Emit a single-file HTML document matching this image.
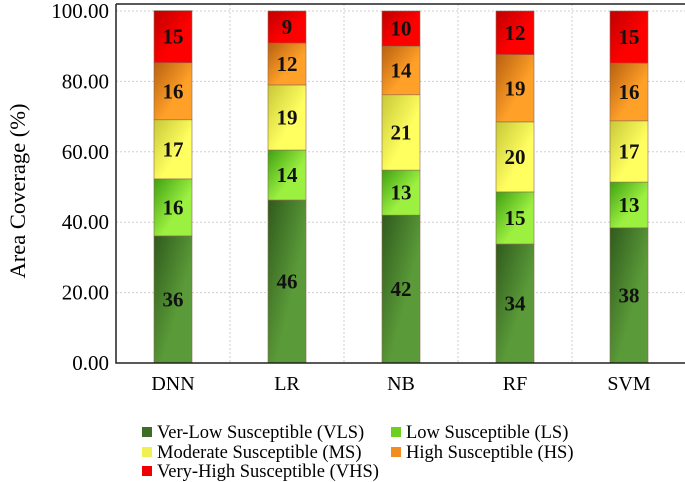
<!DOCTYPE html>
<html><head><meta charset="utf-8"><style>
body{margin:0;background:#fff;}
svg{display:block;font-family:"Liberation Serif",serif;}
</style></head><body>
<svg id="c" width="685" height="482"></svg>
<script>
const categories=["DNN","LR","NB","RF","SVM"];
const seriesNames=["Ver-Low Susceptible (VLS)","Low Susceptible (LS)","Moderate Susceptible (MS)","High Susceptible (HS)","Very-High Susceptible (VHS)"];
const vls=[36.1,46.3,42,33.8,38.4];
const ls=[16.2,14.2,12.8,14.8,13];
const ms=[16.8,18.5,21.4,19.9,17.4];
const hs=[16.2,11.9,13.8,19.1,16.4];
const vhs=[14.8,9.1,10,12.4,14.8];
const yTicks=[0,20,40,60,80,100];
const series=[vls,ls,ms,hs,vhs];
const ns="http://www.w3.org/2000/svg";
const svg=document.getElementById('c');
const L=116,R=686,T=4,B=363,yTop=11;
const y=v=>B-(B-yTop)*v/100;
const bw=(R-L)/categories.length;
const x=i=>L+bw*(i+0.5);
function el(t,a,p){const e=document.createElementNS(ns,t);for(const k in a)e.setAttribute(k,a[k]);(p||svg).appendChild(e);return e;}
const defs=el('defs',{});
const grads=[["#2f5a1c","#5a9a38"],["#3fa012","#9cf040"],["#c8c838","#ffff60"],["#b86010","#ffa028"],["#c00000","#ff0000"]];
grads.forEach((g,i)=>{const lg=el('linearGradient',{id:'g'+i,x1:0,y1:0,x2:1,y2:1},defs);el('stop',{offset:0,'stop-color':g[0]},lg);el('stop',{offset:0.6,'stop-color':g[1]},lg);});
const legCols=["#3d6e26","#6cd020","#f0f050","#f08c20","#f00000"];
yTicks.forEach(t=>{if(t>0){const g=el('line',{x1:L,x2:R,y1:y(t),y2:y(t),stroke:'#cfcfcf','stroke-dasharray':'2,2'});

}
const tx=el('text',{x:L-7,y:y(t)+7,'text-anchor':'end','font-size':21});tx.textContent=t.toFixed(2);

});
for(let i=1;i<categories.length;i++){const g=el('line',{x1:L+bw*i,x2:L+bw*i,y1:T,y2:B,stroke:'#cfcfcf','stroke-dasharray':'2,2'});

}
categories.forEach((c,i)=>{let cum=0;series.forEach((s,j)=>{const v=s[i];const y0=y(cum),y1=y(cum+v);
const r=el('rect',{x:x(i)-19,y:y1,width:38,height:y0-y1,fill:'url(#g'+j+')',stroke:'#8a6a50','stroke-width':0.6});


const t=el('text',{x:x(i),y:(y0+y1)/2+7,'text-anchor':'middle','font-size':21,'font-weight':'bold',fill:'#111'});t.textContent=Math.round(v);


cum+=v;});
const cl=el('text',{x:x(i),y:390,'text-anchor':'middle','font-size':20});cl.textContent=c;

});
const ax=el('path',{d:`M${L} ${T} H${R} M${L} ${T} V${B} H${R}`,stroke:'#222','stroke-width':1.5,fill:'none'});


const yt=el('text',{x:0,y:0,transform:'translate(25,191) rotate(-90)','text-anchor':'middle','font-size':22.5});yt.textContent='Area Coverage (%)';


const pos=[[142,432],[391,432],[142,452],[391,452],[142,471]];
seriesNames.forEach((n,j)=>{const g=el('g',{});


el('rect',{x:pos[j][0],y:pos[j][1]-5,width:10,height:10,fill:legCols[j]},g);
const t=el('text',{x:pos[j][0]+15,y:pos[j][1]+6,'font-size':18.5},g);t.textContent=n;});
</script>
</body></html>
